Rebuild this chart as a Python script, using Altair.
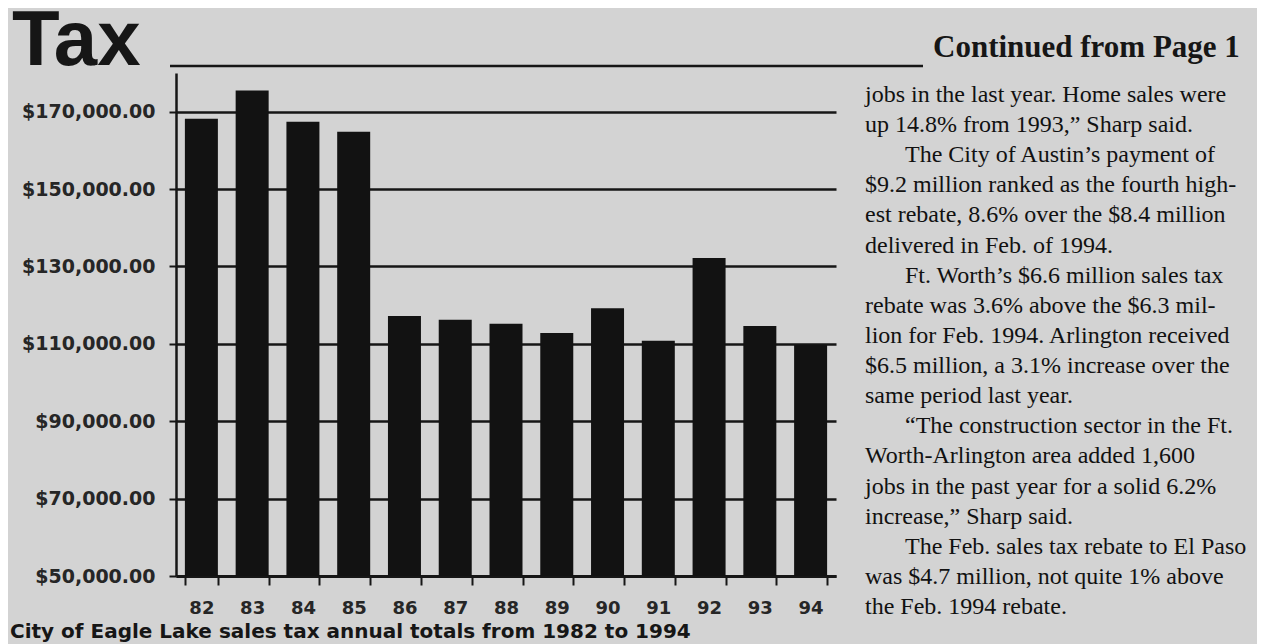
import altair as alt
import pandas as pd

# ---- data ----
years = ["82", "83", "84", "85", "86", "87", "88", "89", "90", "91", "92", "93", "94"]
totals = [168200, 175500, 167400, 164800, 117200, 116200, 115200, 112800,
          119200, 110800, 132200, 114600, 109700]
y_ticks = [50000, 70000, 90000, 110000, 130000, 150000, 170000]
axis_floor = 50000

title_text = "Tax"
caption_text = "City of Eagle Lake sales tax annual totals from 1982 to 1994"
heading_text = "Continued from Page 1"
article_lines = [
    "jobs in the last year. Home sales were",
    "up 14.8% from 1993,\u201d Sharp said.",
    "The City of Austin\u2019s payment of",
    "$9.2 million ranked as the fourth high-",
    "est rebate, 8.6% over the $8.4 million",
    "delivered in Feb. of 1994.",
    "Ft. Worth\u2019s $6.6 million sales tax",
    "rebate was 3.6% above the $6.3 mil-",
    "lion for Feb. 1994. Arlington received",
    "$6.5 million, a 3.1% increase over the",
    "same period last year.",
    "\u201cThe construction sector in the Ft.",
    "Worth-Arlington area added 1,600",
    "jobs in the past year for a solid 6.2%",
    "increase,\u201d Sharp said.",
    "The Feb. sales tax rebate to El Paso",
    "was $4.7 million, not quite 1% above",
    "the Feb. 1994 rebate.",
]
article_indent = [0, 0, 1, 0, 0, 0, 1, 0, 0, 0, 0, 1, 0, 0, 0, 1, 0, 0]

INK = "#161616"
PAPER = "#d3d3d3"

bars_df = pd.DataFrame({"year": years, "total": totals})
art_df = pd.DataFrame({
    "line": list(range(len(article_lines))),
    "text": article_lines,
    "indent": article_indent,
})


def one(text):
    return pd.DataFrame({"t": [text]})


bars = alt.Chart(bars_df).mark_bar(color="#121212").encode(
    x=alt.X("year:N", sort=years, title=None,
            scale=alt.Scale(paddingInner=0.35, paddingOuter=0.175),
            axis=alt.Axis(labelAngle=0, tickBand="extent", tickSize=9,
                          tickWidth=2, tickColor=INK, domainWidth=3,
                          domainColor=INK, labelFont="DejaVu Sans",
                          labelFontWeight="bold", labelFontSize=18,
                          labelColor="#262626", labelPadding=14, grid=False)),
    y=alt.Y("total:Q", title=None,
            scale=alt.Scale(domain=[50000, 180000], nice=False, zero=False),
            axis=alt.Axis(values=y_ticks, format="$,.2f", tickSize=7,
                          tickWidth=2, tickColor=INK, domainWidth=2.5,
                          domainColor=INK, grid=True, gridColor=INK,
                          gridWidth=2.5, gridOpacity=1,
                          labelFont="DejaVu Sans", labelFontWeight="bold",
                          labelFontSize=19, labelColor="#262626",
                          labelPadding=14)),
    y2=alt.datum(axis_floor),
)

top_rule = alt.Chart(one("")).mark_rule(color=INK, strokeWidth=2.5).encode(
    x=alt.value(-6), x2=alt.value(747), y=alt.value(-7)
)

title = alt.Chart(one(title_text)).mark_text(
    font="Liberation Sans", fontWeight="bold", fontSize=78,
    align="left", baseline="alphabetic", color=INK
).encode(x=alt.value(-164), y=alt.value(-8), text="t:N")

caption = alt.Chart(one(caption_text)).mark_text(
    font="DejaVu Sans", fontWeight="bold", fontSize=20,
    align="left", baseline="alphabetic", color=INK
).encode(x=alt.value(-166), y=alt.value(565), text="t:N")

heading = alt.Chart(one(heading_text)).mark_text(
    font="Liberation Serif", fontWeight="bold", fontSize=31,
    align="left", baseline="alphabetic", color=INK
).encode(x=alt.value(757), y=alt.value(-16), text="t:N")

article = alt.Chart(art_df).mark_text(
    font="Liberation Serif", fontSize=24, align="left", baseline="middle",
    color="#111111"
).encode(
    x=alt.X("indent:Q", scale=alt.Scale(domain=[0, 1], range=[689, 729]), axis=None),
    y=alt.Y("line:Q", scale=alt.Scale(domain=[0, 17], range=[22, 534]), axis=None),
    text="text:N",
)

chart = alt.layer(bars, top_rule, title, caption, heading, article).resolve_scale(
    x="independent", y="independent"
).properties(
    width=660, height=503,
    padding={"left": 168, "top": 65, "right": 421, "bottom": 80},
    autosize=alt.AutoSizeParams(type="none"),
    background=PAPER,
).configure_view(stroke=None)

chart.save("out.html", embed_options={"renderer": "svg", "actions": False})
